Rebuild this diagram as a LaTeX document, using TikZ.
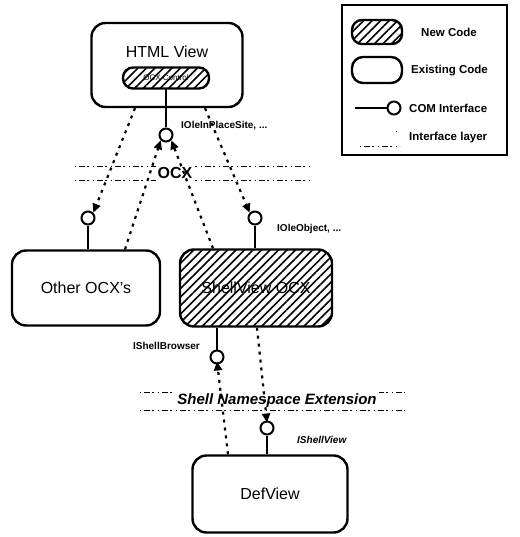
\documentclass[tikz,border=0pt]{standalone}
\usepackage{fontspec}
\setmainfont{Liberation Sans}
\usepackage{tikz}
\usetikzlibrary{arrows.meta,patterns.meta}

\begin{document}
\begin{tikzpicture}[x=1pt,y=-1pt,
	codebox/.style = {draw, line width=2.4pt, rounded corners=14pt, inner sep=0pt},
	newcode/.style = {codebox, pattern={Lines[angle=45,distance=6pt,line width=1.6pt]}},
	port/.style = {draw, circle, line width=2pt, fill=white, minimum size=13pt, inner sep=0pt},
	stem/.style = {line width=2pt},
	call/.style = {line width=2.2pt, dash pattern=on 3pt off 5pt, -{Triangle[length=9pt,width=8pt]}},
	layer/.style = {line width=0.9pt, dash pattern=on 1pt off 3pt on 6pt off 2pt on 2pt off 4pt},
	ifname/.style = {font=\fontsize{10}{12}\selectfont\bfseries, inner sep=1pt},
	keyname/.style = {font=\fontsize{11.5}{13}\selectfont\bfseries, inner sep=1pt, anchor=west},
	boxname/.style = {font=\fontsize{16}{18}\selectfont}]
	\useasboundingbox (0,0) rectangle (519,537);

	% interface layers
	\draw[layer] (75,166) -- (310,166);
	\draw[layer] (75,180) -- (310,180);
	\draw[layer] (140,392) -- (405,392);
	\draw[layer] (140,410) -- (405,410);
	\node[fill=white, inner sep=2pt, font=\fontsize{16}{18}\selectfont\bfseries] (ocxlayer) at (175,173) {OCX};
	\node[fill=white, inner sep=2pt, font=\fontsize{15}{18}\selectfont\bfseries\itshape] (nselayer) at (277,401) {Shell Namespace Extension};

	% components
	\node[codebox, minimum width=151pt, minimum height=84pt] (html) at (167,65) {};
	\node[boxname] (htmltext) at (167,52) {HTML View};
	\node[newcode, rounded corners=10pt, minimum width=86pt, minimum height=21pt, font=\fontsize{8}{9}\selectfont] (ocxctl) at (166,78) {OCX Control};
	\node[codebox, boxname, minimum width=148pt, minimum height=75pt] (other) at (86,288) {Other OCX's};
	\node[newcode, boxname, minimum width=152pt, minimum height=77pt] (shell) at (256,288) {ShellView OCX};
	\node[codebox, boxname, minimum width=155pt, minimum height=77pt] (defview) at (270,494) {DefView};

	% COM interfaces
	\node[port] (siteport) at (166,135) {};
	\node[port] (otherport) at (88,218) {};
	\node[port] (objport) at (255,218) {};
	\node[port] (brwport) at (217,357) {};
	\node[port] (viewport) at (267,428) {};
	\draw[stem] (ocxctl.south) -- (siteport);
	\draw[stem] (other.north -| otherport) -- (otherport);
	\draw[stem] (shell.north -| objport) -- (objport);
	\draw[stem] (shell.south -| brwport) -- (brwport);
	\draw[stem] (defview.north -| viewport) -- (viewport);

	\node[ifname, anchor=west] (sitename) at (180,126) {IOleInPlaceSite, ...};
	\node[ifname, anchor=west] (objname) at (276,229) {IOleObject, ...};
	\node[ifname, anchor=east] (brwname) at (201,346) {IShellBrowser};
	\node[ifname, anchor=west, font=\fontsize{10}{12}\selectfont\bfseries\itshape] (viewname) at (296,440) {IShellView};

	% calls across the layers
	\draw[call] ([xshift=-32pt]html.south) -- (otherport.north east);
	\draw[call] ([xshift=38pt]html.south) -- (objport.north west);
	\draw[call] ([xshift=39pt]other.north) -- (siteport.south west);
	\draw[call] ([xshift=-43pt]shell.north) -- (siteport.south east);
	\draw[call] ([xshift=-42pt]defview.north) -- ([yshift=3pt]brwport.south);
	\draw[call] ([xshift=1pt]shell.south) -- ([yshift=-2pt]viewport.north);

	% legend
	\draw[line width=2.4pt] (342,5) rectangle (507,155);
	\node[newcode, minimum width=50pt, minimum height=24pt, rounded corners=10pt] (newkey) at (377,32) {};
	\node[codebox, minimum width=50pt, minimum height=26pt, rounded corners=11pt] (oldkey) at (377,70) {};
	\node[port] (portkey) at (394,108) {};
	\draw[stem] (355,108) -- (portkey);
	\draw[layer] (360,146) -- (400,146);
	\draw[layer] (396,131) -- (400,131);
	\node[keyname] (newtext) at (420,32) {New Code};
	\node[keyname] (oldtext) at (410,71) {Existing Code};
	\node[keyname] (porttext) at (408,108) {COM Interface};
	\node[keyname] (layertext) at (408,138) {Interface layer};
\end{tikzpicture}
\end{document}
